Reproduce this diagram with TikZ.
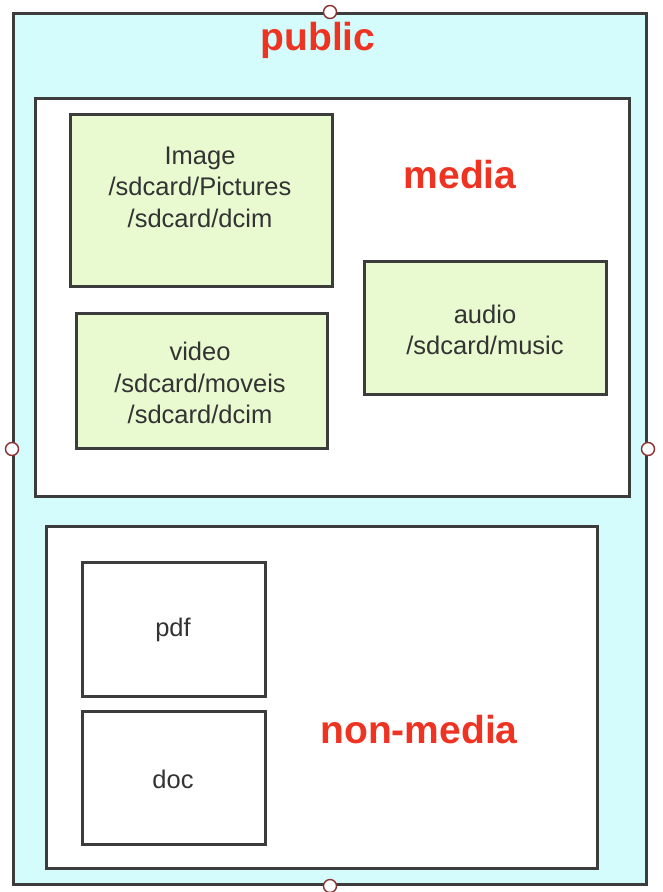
\documentclass[tikz,border=0pt]{standalone}
\usepackage{fontspec}
\setmainfont{Liberation Sans}
\begin{document}
\begin{tikzpicture}[x=1pt,y=-1pt,
  frame/.style={draw=boxline,line width=3pt,anchor=north west,inner sep=0pt},
  typebox/.style={frame,fill=typefill},
  plainbox/.style={frame,fill=white},
  caption/.style={text=labelred,font=\fontsize{39}{42}\selectfont\bfseries,anchor=base,inner sep=0pt},
  entry/.style={text=entrytext,font=\fontsize{25.5}{31.5}\selectfont,align=center,inner sep=0pt},
  handle/.style={circle,draw=handlered,fill=white,line width=1.4pt,minimum size=13pt,inner sep=0pt}]
\definecolor{boxline}{HTML}{3C3C3C}
\definecolor{outerfill}{HTML}{D4FCFC}
\definecolor{typefill}{HTML}{EAFAD0}
\definecolor{labelred}{HTML}{EE3322}
\definecolor{entrytext}{HTML}{333333}
\definecolor{handlered}{HTML}{8B3030}
\useasboundingbox (0,0) rectangle (662,892);
\fill[white] (0,0) rectangle (662,892);

% storage root
\node[frame,fill=outerfill,minimum width=633pt,minimum height=871pt] (public) at (12,12) {};
\node[caption] (publiclbl) at (318,50) {public};

% media collections
\node[plainbox,minimum width=594pt,minimum height=398pt] (media) at (34,97) {};
\node[caption] (medialbl) at (460,188) {media};
\node[typebox,minimum width=262pt,minimum height=172pt] (image) at (69,113) {};
\node[entry] (imagetxt) at (200,187) {Image\\/sdcard/Pictures\\/sdcard/dcim};
\node[typebox,minimum width=251pt,minimum height=135pt] (video) at (75,312) {};
\node[entry] (videotxt) at (200,383) {video\\/sdcard/moveis\\/sdcard/dcim};
\node[typebox,minimum width=242pt,minimum height=133pt] (audio) at (363,260) {};
\node[entry] (audiotxt) at (485,330) {audio\\/sdcard/music};

% other files
\node[plainbox,minimum width=551pt,minimum height=342pt] (nonmedia) at (45,525) {};
\node[caption] (nonmedialbl) at (419,743) {non-media};
\node[plainbox,minimum width=183pt,minimum height=134pt] (pdf) at (81,561) {};
\node[entry] (pdftxt) at (173,630) {pdf};
\node[plainbox,minimum width=183pt,minimum height=133pt] (doc) at (81,710) {};
\node[entry] (doctxt) at (173,779) {doc};

% selection handles on the root frame
\node[handle] (hn) at (public.north) {};
\node[handle] (hs) at (public.south) {};
\node[handle] (hw) at (public.west) {};
\node[handle] (he) at (public.east) {};
\end{tikzpicture}
\end{document}
